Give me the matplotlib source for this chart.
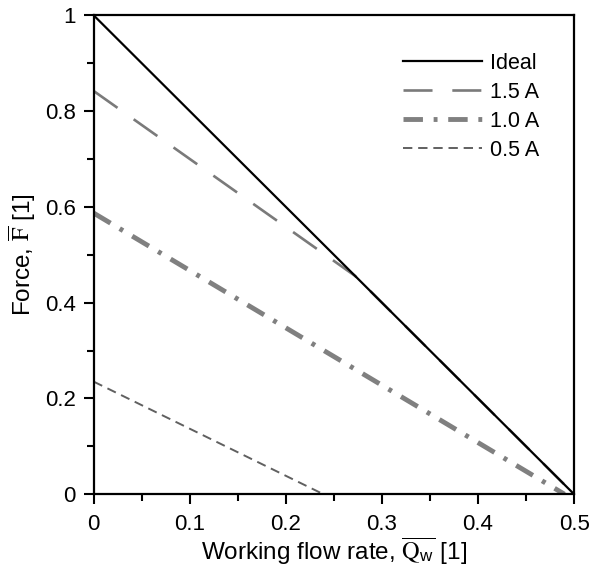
import numpy as np
import matplotlib.pyplot as plt
from matplotlib.ticker import MultipleLocator

plt.rcParams['font.family'] = ['Liberation Sans', 'DejaVu Sans']
plt.rcParams['mathtext.fontset'] = 'stix'

# working flow rate vs force, normalised
q_ideal = [0.0, 0.5]
f_ideal = [1.0, 0.0]
q_15 = [0.0, 0.272, 0.5]
f_15 = [0.842, 0.456, 0.0]
q_10 = [0.0, 0.49]
f_10 = [0.587, 0.0]
q_05 = [0.0, 0.239]
f_05 = [0.235, 0.0]

fig = plt.figure(figsize=(5.9, 5.72), dpi=100)
ax = fig.add_axes([0.159, 0.136, 0.814, 0.837])

ax.plot(q_ideal, f_ideal, color='black', lw=1.6, label='Ideal', zorder=5)
ax.plot(q_15, f_15, color='#7a7a7a', lw=1.9, dashes=(11, 7.5), label='1.5 A')
ax.plot(q_10, f_10, color='#808080', lw=3.5, dashes=(4, 2.2, 0.8, 2.2), label='1.0 A')
ax.plot(q_05, f_05, color='#606060', lw=1.4, dashes=(4.8, 3), label='0.5 A')

ax.set_xlim(0, 0.5)
ax.set_ylim(0, 1)
ax.xaxis.set_major_locator(MultipleLocator(0.1))
ax.xaxis.set_minor_locator(MultipleLocator(0.05))
ax.yaxis.set_major_locator(MultipleLocator(0.2))
ax.yaxis.set_minor_locator(MultipleLocator(0.1))
ax.xaxis.set_major_formatter(plt.FuncFormatter(lambda v, p: '0' if v == 0 else f'{v:g}'))
ax.yaxis.set_major_formatter(plt.FuncFormatter(lambda v, p: '0' if v == 0 else f'{v:g}'))
ax.tick_params(which='major', direction='out', length=7, width=1.5, labelsize=16)
ax.tick_params(axis='x', which='major', pad=7)
ax.tick_params(axis='y', which='major', pad=6)
ax.tick_params(which='minor', direction='out', length=5, width=1.5)
for s in ax.spines.values():
    s.set_linewidth(1.6)

ax.set_xlabel(r'Working flow rate, $\overline{\mathrm{Q}_{\mathregular{w}}}$ [1]', fontsize=17.5, labelpad=1)
ax.set_ylabel(r'Force, $\overline{\mathrm{F}}$ [1]', fontsize=17.5, labelpad=5)

ax.legend(loc='upper left', frameon=False, fontsize=15.5, handlelength=3.67,
          handletextpad=0.35, labelspacing=0.37, borderpad=0, borderaxespad=0,
          bbox_to_anchor=(0.644, 0.922))

fig.savefig('out.png', dpi=100)
